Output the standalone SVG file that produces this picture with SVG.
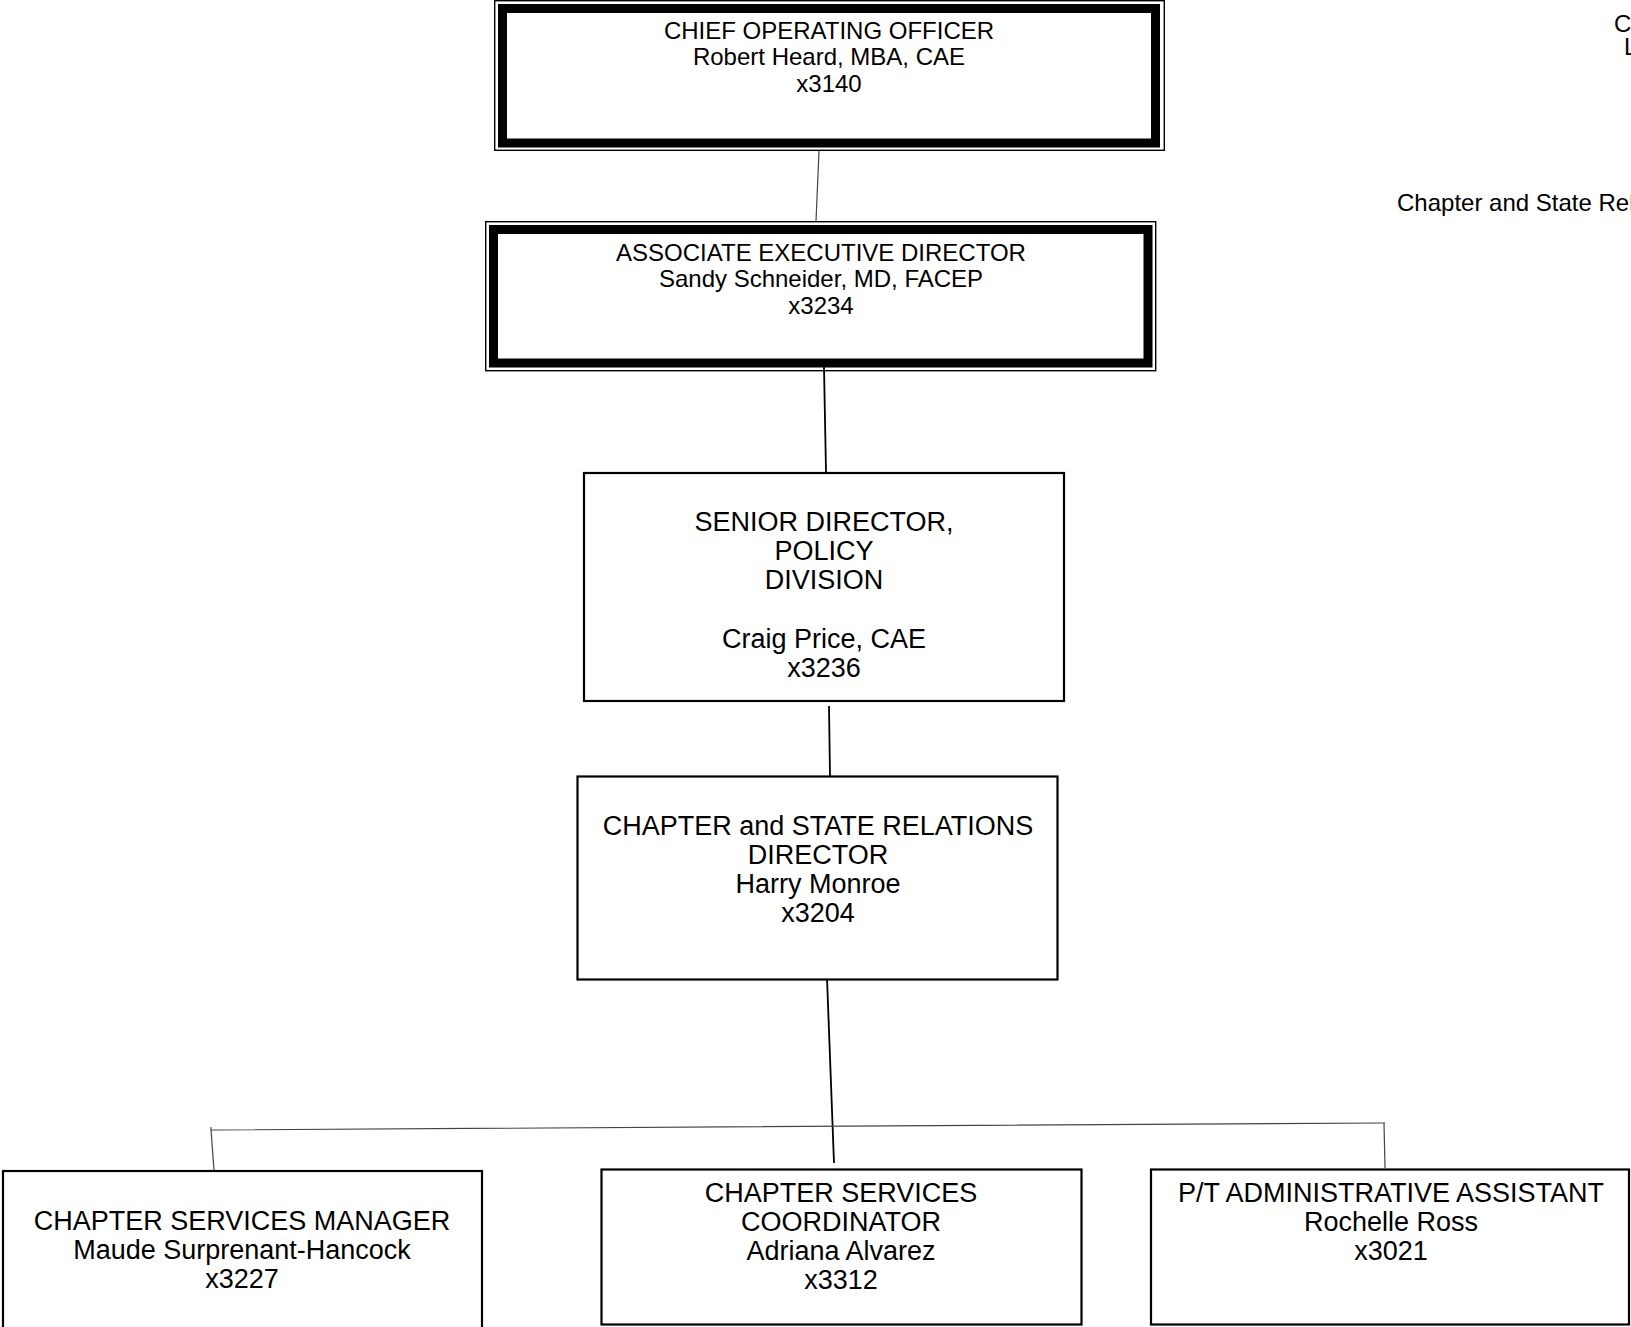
<svg xmlns="http://www.w3.org/2000/svg" width="1631" height="1327" viewBox="0 0 1631 1327">
<style>
.t{font-family:"Liberation Sans",Arial,sans-serif;fill:#000;text-anchor:middle}
.s24{font-size:24px}
.s26{font-size:27px}
.box{fill:#fff;stroke:#000;stroke-width:2.2}
.thin{fill:none;stroke:#000;stroke-width:1.4}
.thick{fill:none;stroke:#000;stroke-width:9}
.c1{stroke:#444;stroke-width:1.2;fill:none}
.c2{stroke:#000;stroke-width:1.8;fill:none}
.free{font-family:"Liberation Sans",Arial,sans-serif;font-size:24px;fill:#000}
</style>
<rect width="1631" height="1327" fill="#fff"/>
<g id="connectors">
<line class="c1" x1="819" y1="151" x2="816" y2="221"/>
<line class="c2" x1="824" y1="367" x2="826" y2="472"/>
<line class="c2" x1="829" y1="706" x2="830" y2="776"/>
<line class="c2" x1="827" y1="978" x2="834" y2="1163"/>
<polyline class="c1" points="211,1127 211,1130 1385,1123"/>
<line class="c1" x1="211" y1="1130" x2="214" y2="1170"/>
<line class="c1" x1="1384" y1="1123" x2="1385" y2="1168"/>
</g>
<g id="coo">
<rect x="494.7" y="0.7" width="669.6" height="149.6" class="thin" fill="#fff"/>
<rect x="502.5" y="8.5" width="653" height="134.5" class="thick"/>
<text class="t s24" x="829" y="39">CHIEF OPERATING OFFICER</text>
<text class="t s24" x="829" y="65">Robert Heard, MBA, CAE</text>
<text class="t s24" x="829" y="92">x3140</text>
</g>
<g id="aed">
<rect x="485.7" y="221.7" width="670" height="149" class="thin" fill="#fff"/>
<rect x="493.5" y="229.5" width="654.5" height="133.5" class="thick"/>
<text class="t s24" x="821" y="260.5">ASSOCIATE EXECUTIVE DIRECTOR</text>
<text class="t s24" x="821" y="286.5">Sandy Schneider, MD, FACEP</text>
<text class="t s24" x="821" y="313.5">x3234</text>
</g>
<g id="senior">
<rect x="584" y="473" width="480" height="228" class="box"/>
<text class="t s26" x="824" y="531">SENIOR DIRECTOR,</text>
<text class="t s26" x="824" y="560">POLICY</text>
<text class="t s26" x="824" y="589">DIVISION</text>
<text class="t s26" x="824" y="648">Craig Price, CAE</text>
<text class="t s26" x="824" y="677">x3236</text>
</g>
<g id="director">
<rect x="577.5" y="776.5" width="480" height="203" class="box"/>
<text class="t s26" x="818" y="835">CHAPTER and STATE RELATIONS</text>
<text class="t s26" x="818" y="864">DIRECTOR</text>
<text class="t s26" x="818" y="893">Harry Monroe</text>
<text class="t s26" x="818" y="922">x3204</text>
</g>
<g id="manager">
<rect x="3" y="1171" width="479" height="158" class="box"/>
<text class="t s26" x="242" y="1230">CHAPTER SERVICES MANAGER</text>
<text class="t s26" x="242" y="1259">Maude Surprenant-Hancock</text>
<text class="t s26" x="242" y="1288">x3227</text>
</g>
<g id="coordinator">
<rect x="601.5" y="1169.5" width="480" height="155" class="box"/>
<text class="t s26" x="841" y="1202">CHAPTER SERVICES</text>
<text class="t s26" x="841" y="1231">COORDINATOR</text>
<text class="t s26" x="841" y="1260">Adriana Alvarez</text>
<text class="t s26" x="841" y="1289">x3312</text>
</g>
<g id="assistant">
<rect x="1151" y="1169.5" width="478" height="155" class="box"/>
<text class="t s26" x="1391" y="1202">P/T ADMINISTRATIVE ASSISTANT</text>
<text class="t s26" x="1391" y="1231">Rochelle Ross</text>
<text class="t s26" x="1391" y="1260">x3021</text>
</g>
<g id="side-notes">
<text class="free" x="1614" y="32">C</text>
<text class="free" x="1624" y="55">L</text>
<text class="free" x="1397" y="210.5">Chapter and State Rel</text>
</g>
</svg>
